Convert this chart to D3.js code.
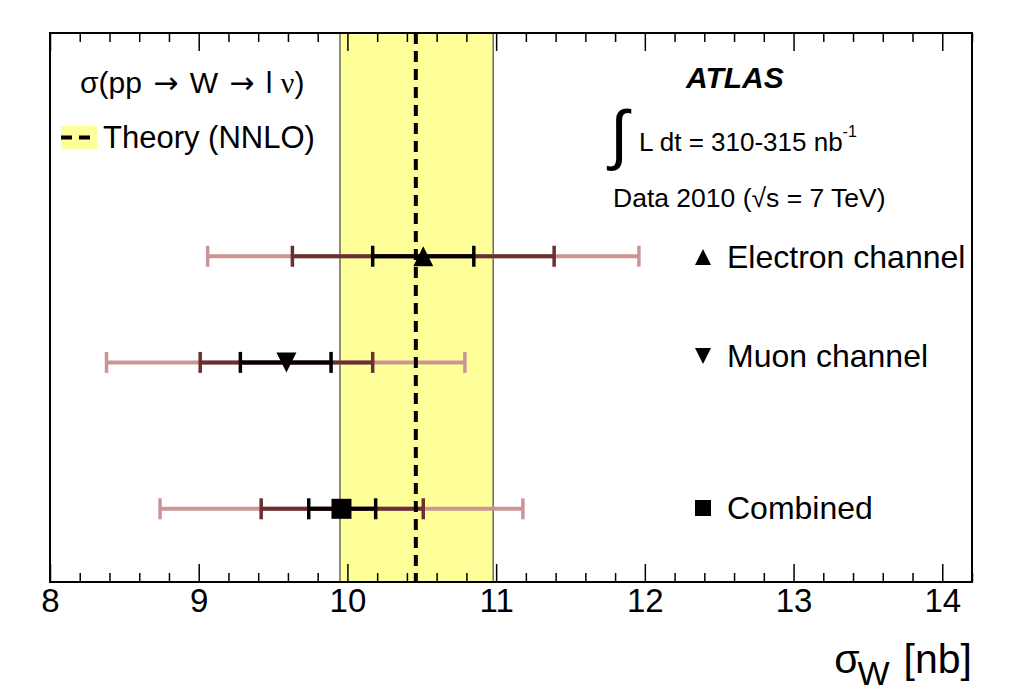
<!DOCTYPE html>
<html>
<head>
<meta charset="utf-8">
<script src="https://cdn.jsdelivr.net/npm/d3@7/dist/d3.min.js"></script>
<style>
  html, body { margin: 0; padding: 0; background: #fff; }
  svg { display: block; }
  text { font-family: "Liberation Sans", Arial, Helvetica, sans-serif; fill: #000; }
</style>
</head>
<body>
<svg id="chart" width="1024" height="694"></svg>
<script>
// ---------------- data ----------------
const channels   = ["Electron channel", "Muon channel", "Combined"];
const markers    = ["triangleUp", "triangleDown", "square"];
const central    = [10.51, 9.59, 9.96];
const statLo     = [10.17, 9.28, 9.74];
const statHi     = [10.85, 9.89, 10.19];
const systLo     = [9.63, 9.01, 9.42];
const systHi     = [11.39, 10.17, 10.51];
const totalLo    = [9.06, 8.38, 8.74];
const totalHi    = [11.96, 10.79, 11.18];
const rowPos     = [4.45, 3.0, 1.0];
const theory     = [10.46];
const theoryBand = [9.95, 10.98];
const xTicks     = [8, 9, 10, 11, 12, 13, 14];
const xDomain    = [8, 14.2];
const yDomain    = [0, 7.5];

// ---------------- layout ----------------
const L = 50, R = 972, T = 33, B = 582;
const svg = d3.select("#chart");

const x = d3.scaleLinear().domain(xDomain).range([L, R]);
const y = d3.scaleLinear().domain(yDomain).range([B, T]);

const cPink = "#c99595", cDark = "#6a3030", cBlack = "#000";

// theory band
svg.append("rect")
  .attr("x", x(theoryBand[0])).attr("y", T)
  .attr("width", x(theoryBand[1]) - x(theoryBand[0]))
  .attr("height", B - T)
  .attr("fill", "#ffff99");
theoryBand.forEach(v => {
  svg.append("line").attr("x1", x(v)).attr("x2", x(v)).attr("y1", T).attr("y2", B)
    .attr("stroke", "#444").attr("stroke-width", 1.2);
});

// error bars
const capH = 21;
function drawBars(lo, hi, color) {
  const g = svg.append("g");
  channels.forEach((c, i) => {
    const yy = y(rowPos[i]);
    g.append("line").attr("x1", x(lo[i])).attr("x2", x(hi[i]))
      .attr("y1", yy).attr("y2", yy).attr("stroke", color).attr("stroke-width", 4);
    [lo[i], hi[i]].forEach(v => {
      g.append("line").attr("x1", x(v)).attr("x2", x(v))
        .attr("y1", yy - capH / 2).attr("y2", yy + capH / 2)
        .attr("stroke", color).attr("stroke-width", 3.5);
    });
  });
}
drawBars(totalLo, totalHi, cPink);
drawBars(systLo, systHi, cDark);
drawBars(statLo, statHi, cBlack);

// theory central dashed line
svg.append("line")
  .attr("x1", x(theory[0])).attr("x2", x(theory[0]))
  .attr("y1", T).attr("y2", B)
  .attr("stroke", "#000").attr("stroke-width", 4)
  .attr("stroke-dasharray", "11,7");

// marker shapes
function markerPath(type, size) {
  const h = size, w = size;
  if (type === "triangleUp") return `M${-w/2},${h/2}L${w/2},${h/2}L0,${-h/2}Z`;
  if (type === "triangleDown") return `M${-w/2},${-h/2}L${w/2},${-h/2}L0,${h/2}Z`;
  return `M${-w/2},${-h/2}h${w}v${h}h${-w}Z`;
}
channels.forEach((c, i) => {
  svg.append("path")
    .attr("d", markerPath(markers[i], 20))
    .attr("transform", `translate(${x(central[i])},${y(rowPos[i])})`)
    .attr("fill", "#000");
});

// axes (ticks inward)
const minorVals = d3.range(8, 14.2001, 0.2).filter(v => Math.abs(v - Math.round(v)) > 1e-6);
const axB = svg.append("g").attr("transform", `translate(0,${B})`)
  .call(d3.axisBottom(x).tickValues(xTicks).tickSize(-18).tickPadding(7).tickFormat(d3.format("d")));
const axBm = svg.append("g").attr("transform", `translate(0,${B})`)
  .call(d3.axisBottom(x).tickValues(minorVals).tickSize(-9).tickFormat(""));
const axT = svg.append("g").attr("transform", `translate(0,${T})`)
  .call(d3.axisTop(x).tickValues(xTicks).tickSize(-18).tickFormat(""));
const axTm = svg.append("g").attr("transform", `translate(0,${T})`)
  .call(d3.axisTop(x).tickValues(minorVals).tickSize(-9).tickFormat(""));
[axB, axBm, axT, axTm].forEach(a => {
  a.select(".domain").remove();
  a.selectAll(".tick line").attr("stroke", "#000").attr("stroke-width", 1.5);
});
axB.selectAll(".tick text").attr("font-size", 33)
  .attr("font-family", "'Liberation Sans', Arial, sans-serif").attr("fill", "#000");

// frame
svg.append("rect").attr("x", L).attr("y", T).attr("width", R - L).attr("height", B - T)
  .attr("fill", "none").attr("stroke", "#000").attr("stroke-width", 2);

// axis title
const title = svg.append("text").attr("x", R).attr("y", 673)
  .attr("text-anchor", "end").attr("font-size", 41);
title.append("tspan").text("σ");
title.append("tspan").attr("font-size", 34).attr("dy", 12).attr("dx", -2).text("W");
title.append("tspan").attr("dy", -12).attr("dx", 14).text("[nb]");

// top-left legend
const arrowFont = "'DejaVu Sans', sans-serif";
const l1 = svg.append("text").attr("x", 80).attr("y", 93).attr("font-size", 30);
l1.append("tspan").text("σ(pp ");
l1.append("tspan").attr("font-family", arrowFont).attr("dx", 3).text("→");
l1.append("tspan").attr("dx", 3).text(" W ");
l1.append("tspan").attr("font-family", arrowFont).attr("dx", 3).text("→");
l1.append("tspan").attr("dx", 3).text(" l ");
l1.append("tspan").attr("font-family", "'Liberation Serif', serif").text("ν");
l1.append("tspan").text(")");

svg.append("rect").attr("x", 61).attr("y", 126).attr("width", 36).attr("height", 23).attr("fill", "#ffff99");
svg.append("line").attr("x1", 61).attr("x2", 97).attr("y1", 137.5).attr("y2", 137.5)
  .attr("stroke", "#000").attr("stroke-width", 4).attr("stroke-dasharray", "11,7");
svg.append("text").attr("x", 103).attr("y", 148).attr("font-size", 31).text("Theory (NNLO)");

// top-right labels
svg.append("text").attr("x", 686).attr("y", 88).attr("font-size", 30)
  .attr("font-weight", "bold").attr("font-style", "italic").text("ATLAS");
svg.append("text").attr("x", 610).attr("y", 157).attr("font-size", 66)
  .attr("font-family", "'Liberation Serif', serif").text("∫");
const lum = svg.append("text").attr("x", 639).attr("y", 151).attr("font-size", 26);
lum.append("tspan").text("L dt = 310-315 nb");
lum.append("tspan").attr("font-size", 16).attr("dy", -14).text("-1");
svg.append("text").attr("x", 613).attr("y", 207).attr("font-size", 26.5).text("Data 2010 (√s = 7 TeV)");

// right legend
const legY = [257, 356, 508];
channels.forEach((c, i) => {
  svg.append("path").attr("d", markerPath(markers[i], 16))
    .attr("transform", `translate(703,${legY[i]})`).attr("fill", "#000");
  svg.append("text").attr("x", 727).attr("y", legY[i] + 11).attr("font-size", 32).text(c);
});
</script>
</body>
</html>
